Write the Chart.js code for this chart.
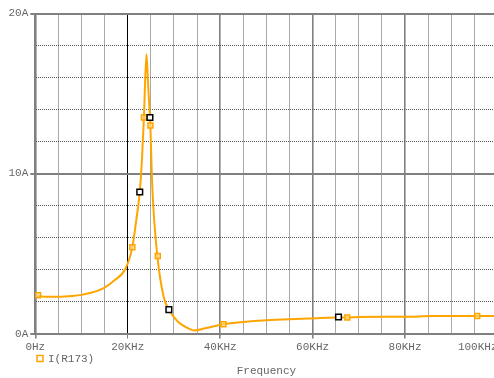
<!DOCTYPE html>
<html>
<head>
<meta charset="utf-8">
<script src="https://cdn.jsdelivr.net/npm/chart.js@4"></script>
<style>
  body { margin: 0; overflow: hidden; background: #fff; }
  #wrap { width: 503px; height: 378px; }
</style>
</head>
<body>
<div id="wrap"><canvas id="freqChart"></canvas></div>
<script>
// trace I(R173), frequency in KHz, current in A
const freqKHz = [0, 2, 5, 8, 10, 12, 15, 17, 19.5, 21, 21.8, 22.6, 23.1, 23.5, 24.05, 24.4, 24.8, 24.9, 25.2, 25.5, 26.4, 27.8, 28.9, 30.7, 33.6, 34.3, 37, 40.7, 45, 50, 55, 60, 65.6, 67.5, 70, 75, 80, 86, 90, 95.6, 100];
const currentA = [2.35, 2.3, 2.3, 2.35, 2.42, 2.55, 2.88, 3.3, 4.05, 5.4, 7.0, 8.85, 11, 13.5, 17.45, 15.6, 13.5, 13.0, 10.0, 8.1, 4.85, 2.25, 1.5, 0.79, 0.26, 0.2, 0.35, 0.58, 0.72, 0.83, 0.9, 0.95, 1.0, 1.0, 1.03, 1.05, 1.05, 1.1, 1.1, 1.1, 1.1];

// trace symbols (orange) and cursor marks (black)
const symbolFreq = [0.6, 21, 23.5, 24.9, 26.5, 40.7, 67.5, 95.6];
const symbolCurrent = [2.4, 5.4, 13.5, 13.0, 4.85, 0.58, 1.0, 1.1];
const cursorFreq = [22.6, 24.8, 28.9, 65.6];
const cursorCurrent = [8.85, 13.5, 1.5, 1.04];

const xTickLabels = ['0Hz', '20KHz', '40KHz', '60KHz', '80KHz', '100KHz      '];
const yTickLabels = ['0A', '10A', '20A'];
const seriesName = 'I(R173)';

const traceColor = '#FFA500';
const textColor = '#666';
const majorGrid = '#808080';
const minorGrid = '#555';
const monoFont = "'Liberation Mono', 'DejaVu Sans Mono', monospace";

const toPoints = (xs, ys) => xs.map((x, i) => ({ x: x, y: ys[i] }));

// legend drawn under the tick labels, like the original
const traceLegend = {
    id: 'traceLegend',
    afterDraw(chart) {
        const ctx = chart.ctx;
        ctx.save();
        ctx.strokeStyle = traceColor;
        ctx.lineWidth = 1.5;
        ctx.strokeRect(37, 355.5, 6, 6);
        ctx.fillStyle = textColor;
        ctx.font = '11px ' + monoFont;
        ctx.textBaseline = 'middle';
        ctx.fillText(seriesName, 48, 359);
        ctx.restore();
    }
};

const ctx = document.getElementById('freqChart').getContext('2d');
new Chart(ctx, {
    type: 'line',
    data: {
        datasets: [
            {
                type: 'scatter',
                data: toPoints(cursorFreq, cursorCurrent),
                pointStyle: 'rect',
                pointRadius: 4,
                borderColor: '#000',
                backgroundColor: '#fff',
                borderWidth: 1.5
            },
            {
                type: 'scatter',
                data: toPoints(symbolFreq, symbolCurrent),
                pointStyle: 'rect',
                pointRadius: 3.5,
                borderColor: traceColor,
                backgroundColor: 'rgba(255,220,150,0.6)',
                borderWidth: 1.5
            },
            {
                label: seriesName,
                data: toPoints(freqKHz, currentA),
                borderColor: traceColor,
                borderWidth: 2,
                pointRadius: 0,
                cubicInterpolationMode: 'monotone',
                fill: false
            }
        ]
    },
    options: {
        responsive: true,
        maintainAspectRatio: false,
        animation: false,
        layout: { padding: { left: 6.5, right: 0, top: 13.5, bottom: 0 } },
        plugins: {
            legend: { display: false },
            tooltip: { enabled: false }
        },
        scales: {
            x: {
                type: 'linear',
                min: 0,
                max: 100,
                afterFit: s => { s.paddingRight = 0; },
                ticks: {
                    stepSize: 5,
                    autoSkip: false,
                    maxRotation: 0,
                    padding: 2,
                    color: textColor,
                    font: { family: monoFont, size: 11 },
                    callback: v => (v % 20 === 0 ? xTickLabels[v / 20] : '')
                },
                grid: {
                    color: c => (c.tick && c.tick.value === 20 ? '#000' : (c.tick && c.tick.value % 20 === 0 ? majorGrid : minorGrid)),
                    lineWidth: c => (c.tick && c.tick.value % 20 === 0 && c.tick.value !== 20 ? 1.6 : 1),
                    tickColor: c => (c.tick && c.tick.value % 20 === 0 ? majorGrid : 'rgba(0,0,0,0)'),
                    tickLength: 5
                },
                border: {
                    color: majorGrid,
                    width: 2,
                    dash: c => (c.tick && c.tick.value % 20 !== 0 ? [1, 1] : [])
                },
                title: {
                    display: true,
                    text: 'Frequency',
                    color: textColor,
                    font: { family: monoFont, size: 11 },
                    padding: { top: 9, bottom: 0 }
                }
            },
            y: {
                min: 0,
                max: 20,
                ticks: {
                    stepSize: 2,
                    padding: 2,
                    color: textColor,
                    font: { family: monoFont, size: 11 },
                    callback: v => (v % 10 === 0 ? yTickLabels[v / 10] : '')
                },
                grid: {
                    color: c => (c.tick && c.tick.value % 10 === 0 ? majorGrid : minorGrid),
                    lineWidth: c => (c.tick && c.tick.value % 10 === 0 ? 2 : 1),
                    tickColor: c => (c.tick && c.tick.value % 10 === 0 ? majorGrid : 'rgba(0,0,0,0)'),
                    tickLength: 5
                },
                border: {
                    color: majorGrid,
                    width: 2,
                    dash: c => (c.tick && c.tick.value % 10 !== 0 ? [1, 1] : [])
                }
            }
        }
    },
    plugins: [traceLegend]
});
</script>
</body>
</html>
